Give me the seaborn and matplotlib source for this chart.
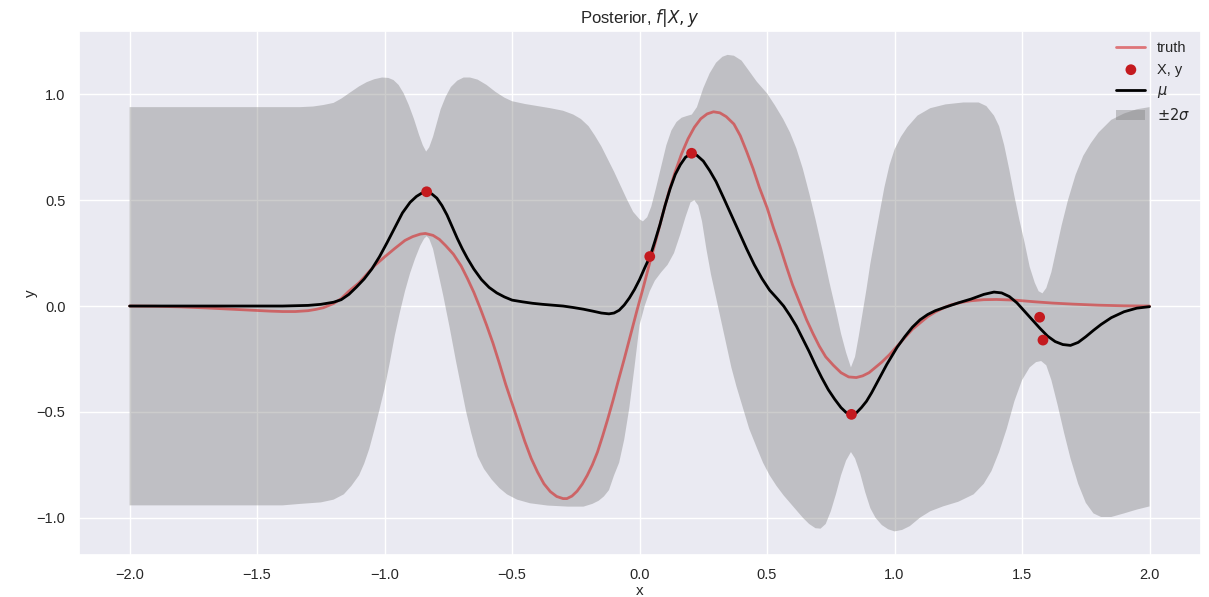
import numpy as np
import pandas as pd
import matplotlib
matplotlib.use("Agg")
import matplotlib.pyplot as plt
import seaborn as sns

# ---------------- data ----------------
x_truth = [-2.0, -1.9, -1.8, -1.7, -1.6, -1.5, -1.45, -1.4, -1.35, -1.3, -1.27, -1.24, -1.2,
           -1.17, -1.14, -1.1, -1.07, -1.04, -1.0, -0.96, -0.92, -0.89, -0.86, -0.84, -0.81,
           -0.785, -0.76, -0.73, -0.70, -0.675, -0.65, -0.625, -0.6, -0.575, -0.55, -0.525,
           -0.5, -0.475, -0.45, -0.425, -0.4, -0.375, -0.35, -0.325, -0.3, -0.285, -0.265,
           -0.245, -0.225, -0.205, -0.185, -0.165, -0.145, -0.125, -0.105, -0.085, -0.06,
           -0.035, -0.01, 0.015, 0.04, 0.065, 0.09, 0.115, 0.14, 0.165, 0.19, 0.215, 0.24,
           0.265, 0.29, 0.315, 0.34, 0.37, 0.395, 0.42, 0.445, 0.47, 0.5, 0.525, 0.55, 0.575,
           0.6, 0.63, 0.655, 0.68, 0.705, 0.73, 0.76, 0.79, 0.82, 0.85, 0.875, 0.9, 0.925,
           0.95, 0.98, 1.01, 1.04, 1.07, 1.1, 1.13, 1.16, 1.19, 1.22, 1.26, 1.3, 1.35, 1.4,
           1.47, 1.55, 1.62, 1.7, 1.8, 1.9, 2.0]
y_truth = [0.0, -0.001, -0.004, -0.009, -0.015, -0.021, -0.024, -0.026, -0.026, -0.022,
           -0.016, -0.008, 0.012, 0.035, 0.07, 0.11, 0.15, 0.19, 0.232, 0.272, 0.31, 0.328,
           0.34, 0.343, 0.334, 0.315, 0.285, 0.245, 0.19, 0.13, 0.065, -0.01, -0.09, -0.175,
           -0.27, -0.37, -0.46, -0.55, -0.64, -0.72, -0.785, -0.84, -0.877, -0.9, -0.91,
           -0.91, -0.898, -0.875, -0.842, -0.8, -0.75, -0.69, -0.615, -0.535, -0.45, -0.36,
           -0.25, -0.135, -0.02, 0.09, 0.205, 0.315, 0.43, 0.54, 0.635, 0.72, 0.79, 0.845,
           0.885, 0.908, 0.918, 0.913, 0.895, 0.86, 0.805, 0.73, 0.65, 0.56, 0.465, 0.37,
           0.284, 0.19, 0.1, 0.01, -0.065, -0.13, -0.19, -0.24, -0.28, -0.315, -0.335,
           -0.338, -0.33, -0.315, -0.29, -0.265, -0.23, -0.19, -0.15, -0.11, -0.08, -0.05,
           -0.028, -0.01, 0.005, 0.017, 0.025, 0.03, 0.031, 0.028, 0.02, 0.014, 0.009, 0.004,
           0.001, 0.0]

x_obs = [-0.835, 0.040, 0.204, 0.831, 1.569, 1.582]
y_obs = [0.54, 0.234, 0.722, -0.512, -0.053, -0.161]

x_mu = [-2.0, -1.6, -1.4, -1.3, -1.25, -1.2, -1.17, -1.14, -1.11, -1.08, -1.05, -1.02, -0.99,
        -0.96, -0.93, -0.9, -0.875, -0.855, -0.835, -0.815, -0.795, -0.775, -0.755, -0.735,
        -0.715, -0.695, -0.675, -0.65, -0.62, -0.59, -0.56, -0.53, -0.5, -0.46, -0.42, -0.38,
        -0.34, -0.3, -0.26, -0.22, -0.18, -0.15, -0.12, -0.1, -0.08, -0.06, -0.04, -0.02,
        0.0, 0.02, 0.042, 0.06, 0.08, 0.1, 0.12, 0.14, 0.16, 0.18, 0.204, 0.225, 0.25, 0.275,
        0.3, 0.33, 0.36, 0.39, 0.42, 0.45, 0.48, 0.51, 0.54, 0.565, 0.59, 0.615, 0.64, 0.665,
        0.69, 0.715, 0.74, 0.765, 0.79, 0.81, 0.83, 0.85, 0.87, 0.89, 0.91, 0.93, 0.95, 0.97,
        0.99, 1.01, 1.04, 1.07, 1.1, 1.13, 1.16, 1.2, 1.25, 1.3, 1.35, 1.39, 1.42, 1.45,
        1.48, 1.51, 1.54, 1.57, 1.6, 1.63, 1.66, 1.69, 1.72, 1.75, 1.78, 1.81, 1.85, 1.9,
        1.95, 2.0]
y_mu = [0.0, 0.0, 0.0, 0.003, 0.008, 0.018, 0.03, 0.055, 0.09, 0.128, 0.175, 0.233, 0.3,
        0.37, 0.44, 0.49, 0.518, 0.533, 0.538, 0.53, 0.51, 0.475, 0.43, 0.375, 0.32, 0.27,
        0.225, 0.175, 0.125, 0.088, 0.062, 0.043, 0.028, 0.02, 0.013, 0.008, 0.004, 0.0,
        -0.007, -0.015, -0.025, -0.033, -0.037, -0.033, -0.02, 0.005, 0.038, 0.078, 0.125,
        0.18, 0.237, 0.305, 0.385, 0.475, 0.555, 0.622, 0.668, 0.703, 0.722, 0.712, 0.685,
        0.64, 0.588, 0.51, 0.43, 0.35, 0.27, 0.195, 0.13, 0.075, 0.035, 0.0, -0.045, -0.095,
        -0.155, -0.215, -0.28, -0.34, -0.395, -0.44, -0.48, -0.503, -0.513, -0.505, -0.48,
        -0.45, -0.41, -0.365, -0.32, -0.275, -0.235, -0.195, -0.145, -0.1, -0.065, -0.04,
        -0.022, -0.005, 0.015, 0.033, 0.055, 0.066, 0.062, 0.045, 0.015, -0.025, -0.065,
        -0.105, -0.142, -0.168, -0.182, -0.186, -0.172, -0.145, -0.115, -0.087, -0.055,
        -0.027, -0.01, -0.003]

x_upper = [-2.0, -1.4, -1.33, -1.28, -1.24, -1.2, -1.17, -1.14, -1.1, -1.07, -1.04, -1.01,
           -0.985, -0.965, -0.945, -0.925, -0.905, -0.885, -0.865, -0.85, -0.837, -0.825,
           -0.81, -0.795, -0.78, -0.76, -0.74, -0.715, -0.69, -0.665, -0.635, -0.6, -0.565,
           -0.53, -0.5, -0.45, -0.4, -0.35, -0.3, -0.26, -0.23, -0.2, -0.175, -0.15, -0.125,
           -0.1, -0.075, -0.05, -0.025, 0.0, 0.013, 0.03, 0.046, 0.065, 0.085, 0.105, 0.125,
           0.145, 0.165, 0.185, 0.205, 0.225, 0.25, 0.275, 0.3, 0.325, 0.345, 0.37, 0.4,
           0.43, 0.46, 0.5, 0.53, 0.563, 0.59, 0.615, 0.64, 0.667, 0.69, 0.72, 0.745, 0.772,
           0.79, 0.81, 0.829, 0.845, 0.86, 0.875, 0.89, 0.905, 0.92, 0.94, 0.96, 0.98, 1.0,
           1.025, 1.05, 1.09, 1.14, 1.2, 1.27, 1.33, 1.36, 1.39, 1.41, 1.43, 1.45, 1.47, 1.49,
           1.51, 1.53, 1.55, 1.565, 1.58, 1.595, 1.615, 1.635, 1.655, 1.68, 1.71, 1.74, 1.77,
           1.8, 1.85, 1.9, 1.95, 2.0]
y_upper = [0.94, 0.94, 0.94, 0.943, 0.95, 0.96, 0.98, 1.005, 1.038, 1.058, 1.072, 1.08,
           1.078, 1.068, 1.045, 1.005, 0.95, 0.885, 0.81, 0.76, 0.73, 0.75, 0.8, 0.865, 0.93,
           0.99, 1.035, 1.065, 1.08, 1.08, 1.07, 1.045, 1.012, 0.985, 0.968, 0.955, 0.945,
           0.935, 0.923, 0.905, 0.884, 0.85, 0.805, 0.755, 0.695, 0.635, 0.57, 0.505, 0.445,
           0.41, 0.4, 0.42, 0.47, 0.56, 0.66, 0.76, 0.83, 0.87, 0.89, 0.898, 0.905, 0.94, 1.03,
           1.1, 1.15, 1.178, 1.187, 1.183, 1.16, 1.11, 1.06, 1.005, 0.95, 0.884, 0.82, 0.745,
           0.65, 0.525, 0.41, 0.25, 0.11, -0.03, -0.13, -0.22, -0.29, -0.24, -0.14, -0.03,
           0.08, 0.2, 0.3, 0.43, 0.56, 0.665, 0.74, 0.8, 0.845, 0.9, 0.935, 0.953, 0.962,
           0.962, 0.945, 0.9, 0.85, 0.76, 0.645, 0.52, 0.405, 0.3, 0.185, 0.11, 0.07, 0.06,
           0.085, 0.16, 0.27, 0.38, 0.5, 0.62, 0.71, 0.77, 0.82, 0.88, 0.91, 0.93, 0.94]

x_lower = [-2.0, -1.4, -1.33, -1.25, -1.2, -1.16, -1.13, -1.1, -1.08, -1.06, -1.04, -1.02,
           -1.0, -0.98, -0.96, -0.94, -0.92, -0.9, -0.88, -0.86, -0.845, -0.835, -0.825,
           -0.81, -0.79, -0.77, -0.745, -0.72, -0.7, -0.68, -0.66, -0.635, -0.61, -0.58,
           -0.55, -0.52, -0.48, -0.43, -0.36, -0.28, -0.22, -0.185, -0.16, -0.14, -0.12,
           -0.1, -0.08, -0.06, -0.04, -0.02, 0.0, 0.02, 0.04, 0.06, 0.085, 0.11, 0.135, 0.16,
           0.18, 0.2, 0.215, 0.23, 0.245, 0.262, 0.28, 0.3, 0.32, 0.34, 0.36, 0.38, 0.405,
           0.43, 0.46, 0.484, 0.51, 0.537, 0.565, 0.59, 0.615, 0.64, 0.665, 0.69, 0.71, 0.73,
           0.75, 0.77, 0.79, 0.81, 0.829, 0.845, 0.865, 0.885, 0.905, 0.925, 0.95, 0.975,
           1.0, 1.03, 1.06, 1.1, 1.14, 1.19, 1.25, 1.31, 1.35, 1.38, 1.41, 1.44, 1.47, 1.5,
           1.53, 1.555, 1.575, 1.595, 1.615, 1.64, 1.665, 1.69, 1.72, 1.75, 1.78, 1.81, 1.85,
           1.9, 1.95, 2.0]
y_lower = [-0.942, -0.942, -0.935, -0.928, -0.915, -0.89, -0.85, -0.8, -0.745, -0.675,
           -0.585, -0.49, -0.39, -0.27, -0.14, -0.03, 0.07, 0.155, 0.225, 0.285, 0.318, 0.33,
           0.318, 0.27, 0.16, 0.05, -0.1, -0.26, -0.38, -0.5, -0.6, -0.71, -0.77, -0.82,
           -0.86, -0.89, -0.915, -0.932, -0.943, -0.948, -0.948, -0.935, -0.92, -0.9, -0.87,
           -0.8, -0.74, -0.63, -0.48, -0.29, -0.09, 0.0, 0.07, 0.12, 0.16, 0.195, 0.25, 0.34,
           0.42, 0.49, 0.5, 0.475, 0.4, 0.27, 0.15, 0.04, -0.07, -0.18, -0.29, -0.38, -0.48,
           -0.58, -0.67, -0.74, -0.8, -0.85, -0.895, -0.93, -0.965, -1.0, -1.03, -1.05,
           -1.052, -1.03, -0.97, -0.89, -0.8, -0.73, -0.69, -0.72, -0.79, -0.88, -0.955, -1.0,
           -1.035, -1.055, -1.065, -1.058, -1.04, -1.0, -0.97, -0.947, -0.925, -0.89, -0.84,
           -0.78, -0.69, -0.58, -0.45, -0.35, -0.29, -0.265, -0.26, -0.28, -0.35, -0.47, -0.6,
           -0.72, -0.84, -0.93, -0.98, -0.997, -0.997, -0.98, -0.962, -0.947]

x_ticks = [-2.0, -1.5, -1.0, -0.5, 0.0, 0.5, 1.0, 1.5, 2.0]
y_ticks = [-1.0, -0.5, 0.0, 0.5, 1.0]

# ---------------- styling ----------------
sns.set_theme(style="darkgrid")
plt.rcParams["font.family"] = ["Liberation Sans", "DejaVu Sans"]
plt.rcParams["mathtext.fontset"] = "dejavusans"

fig = plt.figure(figsize=(12.09, 5.97), dpi=100)
ax = fig.add_axes([0.065, 0.070, 0.928, 0.878])

truth_df = pd.DataFrame({"x": x_truth, "y": y_truth})
mu_df = pd.DataFrame({"x": x_mu, "y": y_mu})
obs_df = pd.DataFrame({"x": x_obs, "y": y_obs})

sns.lineplot(data=truth_df, x="x", y="y", ax=ax, color="tab:red", alpha=0.6,
             linewidth=2, label="truth", sort=False)
sns.scatterplot(data=obs_df, x="x", y="y", ax=ax, color="#c41a1f", s=60,
                edgecolor="none", label="X, y", zorder=5)
sns.lineplot(data=mu_df, x="x", y="y", ax=ax, color="black", linewidth=2,
             label=r"$\mu$", sort=False)
# +-2 sigma band drawn as one polygon: upper edge left->right, lower edge right->left
ax.fill(list(x_upper) + list(x_lower[::-1]), list(y_upper) + list(y_lower[::-1]),
        color="gray", alpha=0.4, linewidth=0, label=r"$\pm 2\sigma$")

ax.set_xticks(x_ticks)
ax.set_yticks(y_ticks)
ax.tick_params(labelsize=10.5)
ax.set_xlabel("x", fontsize=11, labelpad=1)
ax.set_ylabel("y", fontsize=11, labelpad=-1)
ax.set_title(r"Posterior, $f|X, y$", fontsize=12)

ax.legend(loc="upper right", frameon=False, fontsize=10.5, borderaxespad=0.3)

fig.savefig("out.png", dpi=100)
